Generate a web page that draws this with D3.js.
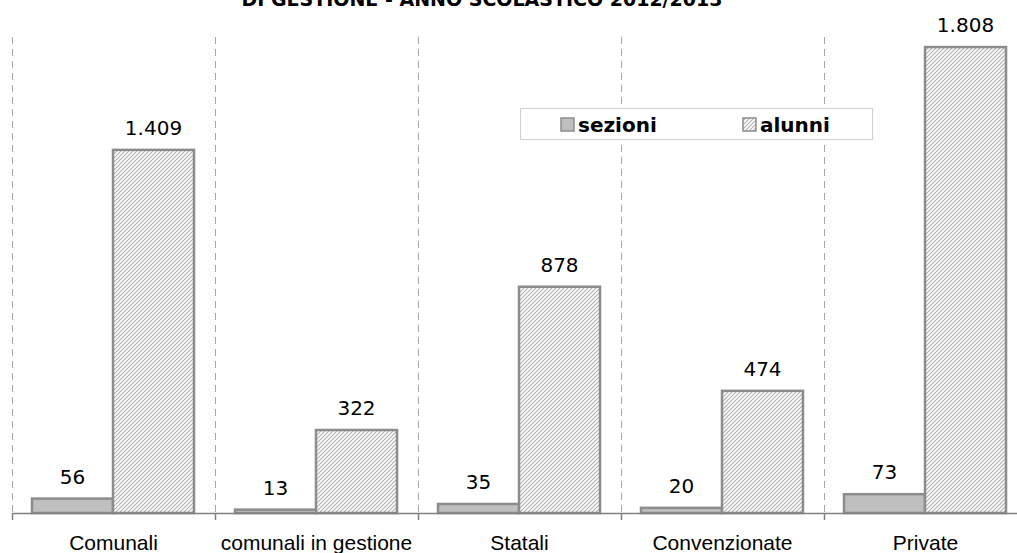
<!DOCTYPE html>
<html>
<head>
<meta charset="utf-8">
<script src="https://cdn.jsdelivr.net/npm/d3@7"></script>
<style>
  html, body { margin: 0; padding: 0; background: #fff; }
  svg { display: block; }
</style>
</head>
<body>
<svg id="chart" width="1017" height="553"></svg>
<script>
const title = "DI GESTIONE - ANNO SCOLASTICO 2012/2013";
const categories = ["Comunali", "comunali in gestione", "Statali", "Convenzionate", "Private"];
const seriesNames = ["sezioni", "alunni"];
const sezioni = [56, 13, 35, 20, 73];
const alunni = [1409, 322, 878, 474, 1808];

const svg = d3.select("#chart");
const W = 1017, H = 553;
const plotLeft = 12, plotRight = 1027, plotTop = 37, plotBase = 513;

const itLocale = d3.formatLocale({decimal: ",", thousands: ".", grouping: [3], currency: ["€", ""]});
const fmt = itLocale.format(",d");

const x = d3.scaleBand().domain(categories).range([plotLeft, plotRight]).paddingInner(0).paddingOuter(0);
const bw = x.bandwidth();
const xs = d3.scaleBand().domain(seriesNames).range([20, bw - 21]).padding(0);
const y = d3.scaleLinear().domain([0, 1847]).range([plotBase, plotTop]);

const defs = svg.append("defs");
const pat = defs.append("pattern").attr("id", "hatch")
  .attr("patternUnits", "userSpaceOnUse").attr("width", 4).attr("height", 4);
pat.append("rect").attr("width", 4).attr("height", 4).attr("fill", "#fff");
pat.append("path").attr("d", "M-1,1 l2,-2 M0,4 l4,-4 M3,5 l2,-2")
  .attr("stroke", "#b0b0b0").attr("stroke-width", 1.1);

// title (cut off at top)
svg.append("text").attr("x", 482).attr("y", 6).attr("text-anchor", "middle")
  .attr("font-family", "DejaVu Sans, Verdana, sans-serif").attr("font-weight", "bold")
  .attr("font-size", 19).attr("fill", "#000").text(title);

// dashed vertical gridlines at category boundaries
const bounds = categories.map(c => x(c));
svg.append("g").selectAll("line").data(bounds).join("line")
  .attr("x1", d => d + 0.5).attr("x2", d => d + 0.5)
  .attr("y1", plotTop).attr("y2", plotBase)
  .attr("stroke", "#a6a6a6").attr("stroke-width", 1).attr("stroke-dasharray", "7,5");

const data = [];
categories.forEach((c, i) => {
  data.push({cat: c, s: "sezioni", v: sezioni[i]});
  data.push({cat: c, s: "alunni", v: alunni[i]});
});

const bars = svg.append("g");
bars.selectAll("rect").data(data).join("rect")
  .attr("x", d => x(d.cat) + xs(d.s))
  .attr("width", xs.bandwidth())
  .attr("y", d => y(d.v))
  .attr("height", d => plotBase - y(d.v))
  .attr("fill", d => d.s === "sezioni" ? "#bfbfbf" : "url(#hatch)")
  .attr("stroke", "#8c8c8c").attr("stroke-width", 2.5);

// value labels
svg.append("g").selectAll("text").data(data).join("text")
  .attr("x", d => x(d.cat) + xs(d.s) + xs.bandwidth() / 2)
  .attr("y", d => y(d.v) - 15)
  .attr("text-anchor", "middle")
  .attr("font-family", "DejaVu Sans, Verdana, sans-serif")
  .attr("font-size", 20).attr("fill", "#000")
  .text(d => fmt(d.v));

// x axis
const axis = svg.append("g").attr("transform", `translate(0,${plotBase})`);
axis.append("line").attr("x1", plotLeft).attr("x2", W).attr("y1", 0.5).attr("y2", 0.5)
  .attr("stroke", "#808080").attr("stroke-width", 1.5);
axis.selectAll("line.tick").data(bounds).join("line").attr("class", "tick")
  .attr("x1", d => d + 0.5).attr("x2", d => d + 0.5).attr("y1", 0).attr("y2", 7)
  .attr("stroke", "#808080").attr("stroke-width", 1.5);
axis.selectAll("text").data(categories).join("text")
  .attr("x", d => x(d) + bw / 2).attr("y", 37)
  .attr("text-anchor", "middle")
  .attr("font-family", "Liberation Sans, Arial, sans-serif")
  .attr("font-size", 21).attr("fill", "#000").text(d => d);

// legend
const lg = svg.append("g");
lg.append("rect").attr("x", 520.5).attr("y", 108.5).attr("width", 352).attr("height", 31)
  .attr("fill", "#fff").attr("stroke", "#d0d0d0").attr("stroke-width", 1);
const legendX = [561, 743];
seriesNames.forEach((s, i) => {
  lg.append("rect").attr("x", legendX[i]).attr("y", 118).attr("width", 13).attr("height", 13)
    .attr("fill", s === "sezioni" ? "#bfbfbf" : "url(#hatch)")
    .attr("stroke", "#8c8c8c").attr("stroke-width", 1.5);
  lg.append("text").attr("x", legendX[i] + 17).attr("y", 132)
    .attr("font-family", "DejaVu Sans, Verdana, sans-serif").attr("font-weight", "bold")
    .attr("font-size", 20).attr("fill", "#000").text(s);
});
</script>
</body>
</html>
